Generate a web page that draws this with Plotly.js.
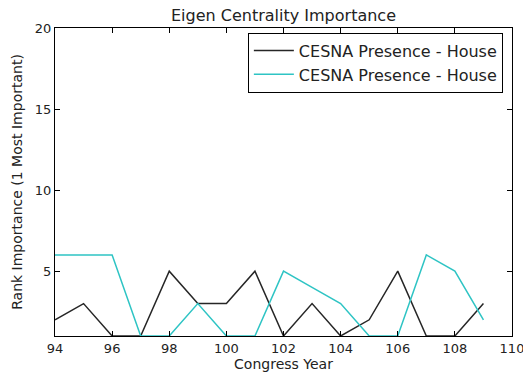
<!DOCTYPE html>
<html><head><meta charset="utf-8">
<script src="https://cdn.plot.ly/plotly-3.0.1.min.js"></script>
<style>html,body{margin:0;padding:0;background:#fff}#chart{width:523px;height:372px}</style>
</head><body><div id="chart"></div>
<script>
const years = [94,95,96,97,98,99,100,101,102,103,104,105,106,107,108,109];
const seriesBlack = [2,3,1,1,5,3,3,5,1,3,1,2,5,1,1,3];
const seriesCyan = [6,6,6,1,1,3,1,1,5,4,3,1,1,6,5,2];
const seriesNames = ['CESNA Presence - House','CESNA Presence - House'];
const xTicks = [94,96,98,100,102,104,106,108,110];
const yTicks = [5,10,15,20];

const font = {family:'DejaVu Sans, sans-serif', size:13, color:'#222'};
const titleFont = {family:'DejaVu Sans, sans-serif', size:14, color:'#222'};
const data = [
  {x:years, y:seriesBlack, type:'scatter', mode:'lines', name:seriesNames[0], line:{color:'#262626', width:1.5}},
  {x:years, y:seriesCyan, type:'scatter', mode:'lines', name:seriesNames[1], line:{color:'#2ec4c4', width:1.5}}
];
const axisCommon = {showgrid:false, zeroline:false, showline:true, linecolor:'#000', linewidth:1, mirror:'allticks', ticks:'inside', ticklen:5, tickcolor:'#000', tickfont:font, ticklabeloverflow:'allow'};
const layout = {
  width:523, height:372,
  margin:{l:55, r:11, t:28, b:36},
  paper_bgcolor:'#fff', plot_bgcolor:'#fff',
  font:font,
  title:{text:'Eigen Centrality Importance', font:{family:'DejaVu Sans, sans-serif', size:16, color:'#222'}, xref:'paper', x:0.5, xanchor:'center', yref:'container', y:0.958, yanchor:'middle'},
  xaxis:Object.assign({}, axisCommon, {range:[94,110], tickvals:xTicks, title:{text:'Congress Year', font:titleFont, standoff:9}}),
  yaxis:Object.assign({}, axisCommon, {range:[1,20], tickvals:yTicks, title:{text:'Rank Importance (1 Most Important)', font:titleFont, standoff:8}}),
  legend:{x:0.98, xanchor:'right', y:0.985, yanchor:'top', bgcolor:'#fff', bordercolor:'#000', borderwidth:1, itemwidth:40, font:{family:'DejaVu Sans, sans-serif', size:16, color:'#222'}},
  showlegend:true
};
Plotly.newPlot('chart', data, layout, {staticPlot:true});
</script></body></html>
